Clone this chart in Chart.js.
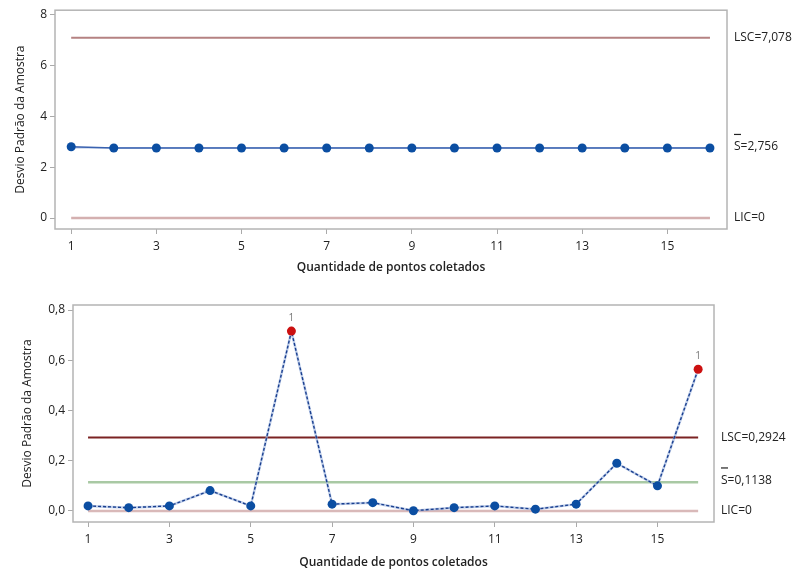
<!DOCTYPE html>
<html>
<head>
<meta charset="utf-8">
<script src="https://cdn.jsdelivr.net/npm/chart.js@4.4.1/dist/chart.umd.min.js"></script>
<style>
  body { margin: 0; background: #fff; }
  .box { position: absolute; left: 0; width: 804px; height: 286px; }
  #top { top: 0; }
  #bottom { top: 286px; }
</style>
</head>
<body>
<div class="box" id="top"><canvas id="c1"></canvas></div>
<div class="box" id="bottom"><canvas id="c2"></canvas></div>
<script>
// sample numbers 1..16
const points = [1, 2, 3, 4, 5, 6, 7, 8, 9, 10, 11, 12, 13, 14, 15, 16];
const xTicks = [1, 3, 5, 7, 9, 11, 13, 15];

// top chart: standard deviation of the sample
const sdTop = [2.80, 2.75, 2.75, 2.75, 2.75, 2.75, 2.75, 2.75, 2.75, 2.75, 2.75, 2.75, 2.75, 2.75, 2.75, 2.75];
const limitsTop = { lsc: 7.078, s: 2.756, lic: 0 };
const yTicksTop = [0, 2, 4, 6, 8];

// bottom chart
const sdBottom = [0.020, 0.013, 0.020, 0.081, 0.020, 0.716, 0.027, 0.033, 0.001, 0.013, 0.020, 0.007, 0.027, 0.190, 0.100, 0.564];
const limitsBottom = { lsc: 0.2924, s: 0.1138, lic: 0 };
const yTicksBottom = [0, 0.2, 0.4, 0.6, 0.8];

const FONT = "'Open Sans', 'DejaVu Sans', sans-serif";
const fmt = (v, d) => v.toFixed(d).replace('.', ',');

const framePlugin = {
  id: 'frame',
  beforeDatasetsDraw(chart) {
    const a = chart.chartArea, ctx = chart.ctx;
    ctx.save();
    ctx.strokeStyle = '#b4b4b4';
    ctx.lineWidth = 1.5;
    ctx.strokeRect(a.left, a.top, a.right - a.left, a.bottom - a.top);
    ctx.restore();
  }
};

const limitLabels = {
  id: 'limitLabels',
  afterDraw(chart, args, o) {
    const ctx = chart.ctx, y = chart.scales.y;
    ctx.save();
    ctx.font = '12px ' + FONT;
    ctx.fillStyle = '#222';
    ctx.textBaseline = 'middle';
    ctx.textAlign = 'left';
    ctx.fillText('LSC=' + o.lscText, o.x, y.getPixelForValue(o.lsc));
    const sy = y.getPixelForValue(o.s) + o.sOff;
    ctx.fillText('S=' + o.sText, o.x, sy);
    // bar over the S
    ctx.fillRect(o.x, sy - 13, 7, 1.2);
    ctx.fillText('LIC=0', o.x, y.getPixelForValue(o.lic));
    // "1" flags above out-of-control points
    const meta = chart.getDatasetMeta(0);
    ctx.font = '10px ' + FONT;
    ctx.fillStyle = '#777';
    ctx.textAlign = 'center';
    meta.data.forEach((p, i) => {
      if (chart.data.datasets[0].data[i].y > o.lsc) ctx.fillText('1', p.x, p.y - 13);
    });
    ctx.restore();
  }
};

function makeChart(id, values, lim, yTicks, cfg) {
  const series = points.map((p, i) => ({ x: p, y: values[i] }));
  const flat = v => [{ x: points[0], y: v }, { x: points[points.length - 1], y: v }];
  const colors = values.map(v => v > lim.lsc ? '#cc1010' : '#0b4ea2');
  const sets = [
    { data: series, borderColor: cfg.seriesColor, borderWidth: 1.4, borderDash: cfg.dash,
      pointRadius: 4.5, pointBackgroundColor: colors, pointBorderColor: colors, pointBorderWidth: 0, order: 0 },
    { data: flat(lim.lsc), borderColor: cfg.lscColor, borderWidth: 2, pointRadius: 0, order: 3 },
    { data: flat(lim.s), borderColor: cfg.sColor, borderWidth: cfg.sWidth, pointRadius: 0, order: 2 },
    { data: flat(lim.lic), borderColor: cfg.licColor, borderWidth: 2.5, pointRadius: 0, order: 4 }
  ];
  if (cfg.underlay) {
    sets.push({ data: series, borderColor: cfg.underlay, borderWidth: 2.5, pointRadius: 0, order: 1 });
  }
  return new Chart(document.getElementById(id), {
    type: 'line',
    data: { datasets: sets },
    options: {
      responsive: true,
      maintainAspectRatio: false,
      animation: false,
      layout: { padding: { left: 0, right: 804 - cfg.right, top: cfg.top, bottom: 0 } },
      plugins: {
        legend: { display: false },
        tooltip: { enabled: false },
        limitLabels: cfg.labels
      },
      scales: {
        x: {
          type: 'linear', min: cfg.xMin, max: cfg.xMax,
          afterBuildTicks: s => { s.ticks = xTicks.map(v => ({ value: v })); },
          afterFit: s => { s.height = cfg.xHeight; },
          grid: { drawOnChartArea: false, tickLength: 5, color: '#aaa' },
          border: { display: false },
          ticks: { font: { size: 12, family: FONT }, color: '#222', padding: 5, maxRotation: 0 },
          title: { display: true, text: 'Quantidade de pontos coletados', color: '#222',
                   font: { size: 12, weight: '600', family: FONT }, padding: { top: 0, bottom: cfg.xTitlePad } }
        },
        y: {
          min: cfg.yMin, max: cfg.yMax,
          afterBuildTicks: s => { s.ticks = yTicks.map(v => ({ value: v })); },
          afterFit: s => { s.width = cfg.left; },
          grid: { drawOnChartArea: false, tickLength: 5, color: '#aaa' },
          border: { display: false },
          ticks: { font: { size: 12, family: FONT }, color: '#222', padding: 3,
                   callback: v => fmt(v, cfg.dec) },
          title: { display: true, text: 'Desvio Padrão da Amostra', color: '#222',
                   font: { size: 12, family: FONT }, padding: { top: cfg.yTitlePad, bottom: 0 } }
        }
      }
    },
    plugins: [framePlugin, limitLabels]
  });
}

makeChart('c1', sdTop, limitsTop, yTicksTop, {
  left: 55, right: 727, top: 10, xHeight: 57, xTitlePad: 11, yTitlePad: 13,
  xMin: 0.62, xMax: 16.4, yMin: -0.43, yMax: 8.16, dec: 0,
  seriesColor: '#3a62b0', dash: [], lscColor: '#b58282', sColor: '#8aa6d6', sWidth: 1, licColor: '#d4b0b0',
  labels: { x: 734, lsc: limitsTop.lsc, s: limitsTop.s, lic: limitsTop.lic,
            lscText: '7,078', sText: '2,756', sOff: -1 }
});

makeChart('c2', sdBottom, limitsBottom, yTicksBottom, {
  left: 73, right: 714, top: 19, xHeight: 50, xTitlePad: 2, yTitlePad: 20,
  xMin: 0.63, xMax: 16.39, yMin: -0.044, yMax: 0.82, dec: 1,
  seriesColor: '#1a3f8f', dash: [3, 2], underlay: 'rgba(150,175,220,0.6)',
  lscColor: '#7b2323', sColor: '#a9c9a4', sWidth: 2.5, licColor: '#d9b9b9',
  labels: { x: 721, lsc: limitsBottom.lsc, s: limitsBottom.s, lic: limitsBottom.lic,
            lscText: '0,2924', sText: '0,1138', sOff: -2 }
});
</script>
</body>
</html>
